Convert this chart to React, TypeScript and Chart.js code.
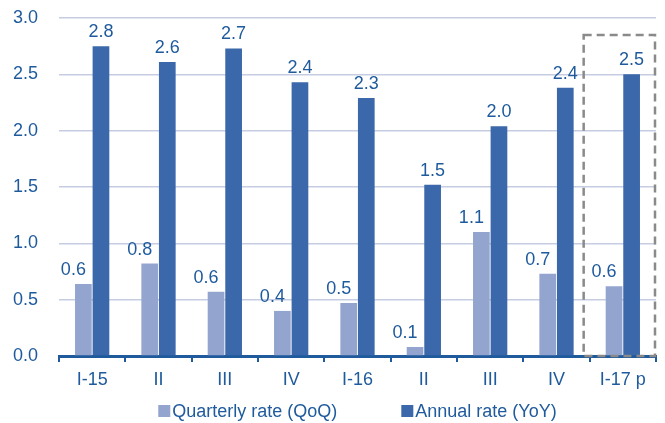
import React, { useEffect, useRef } from "react";
import { Chart, registerables } from "chart.js";

Chart.register(...registerables);

const categories = ["I-15", "II", "III", "IV", "I-16", "II", "III", "IV", "I-17 p"];
const quarterlyRate = [0.64, 0.82, 0.57, 0.4, 0.47, 0.08, 1.1, 0.73, 0.62];
const annualRate = [2.75, 2.61, 2.73, 2.43, 2.29, 1.52, 2.04, 2.38, 2.5];
const yTicks = [0, 0.5, 1.0, 1.5, 2.0, 2.5, 3.0];
const seriesNames = ["Quarterly rate (QoQ)", "Annual rate (YoY)"];

const TEXT = "#1E5A9C";
const LIGHT = "#93A5CE";
const DARK = "#3A68AA";
const FONT = "'Liberation Sans', Arial, sans-serif";
const FS = 18;

const overlayPlugin = {
  id: "overlay",
  afterDatasetsDraw(chart: any) {
    const ctx = chart.ctx;
    const area = chart.chartArea;
    const xs = chart.scales.x;
    const ys = chart.scales.y;
    ctx.save();
    // value labels
    ctx.font = `${FS}px ${FONT}`;
    ctx.fillStyle = TEXT;
    ctx.textAlign = "center";
    ctx.textBaseline = "alphabetic";
    chart.data.datasets.forEach((ds: any, di: number) => {
      const meta = chart.getDatasetMeta(di);
      meta.data.forEach((bar: any, i: number) => {
        const v = ds.data[i] as number;
        const dx = di === 0 ? -10 : 0;
        ctx.fillText(v.toFixed(1), bar.x + dx, bar.y - 9);
      });
    });
    // dashed highlight box around last category
    const last = categories.length - 1;
    const catW = (area.right - area.left) / categories.length;
    const left = xs.getPixelForValue(last) - catW / 2 - 6;
    const right = area.right - 1;
    const top = ys.getPixelForValue(2.85);
    const bottom = ys.getPixelForValue(0);
    ctx.strokeStyle = "#8A8A8A";
    ctx.lineWidth = 2.5;
    ctx.setLineDash([8, 5]);
    ctx.strokeRect(left, top, right - left, bottom - top);
    ctx.setLineDash([]);
    // legend
    ctx.font = `${FS}px ${FONT}`;
    ctx.textAlign = "left";
    ctx.textBaseline = "middle";
    const sq = 12;
    const gapText = 2;
    const gapItem = 64;
    const w0 = ctx.measureText(seriesNames[0]).width;
    const w1 = ctx.measureText(seriesNames[1]).width;
    const total = sq + gapText + w0 + gapItem + sq + gapText + w1;
    let lx = (area.left + area.right) / 2 - total / 2;
    const ly = 411;
    const colors = [LIGHT, DARK];
    [w0, w1].forEach((w, k) => {
      ctx.fillStyle = colors[k];
      ctx.fillRect(lx, ly - sq / 2, sq, sq);
      ctx.fillStyle = TEXT;
      ctx.fillText(seriesNames[k], lx + sq + gapText, ly + 1);
      lx += sq + gapText + w + gapItem;
    });
    ctx.restore();
  },
};

export default function App() {
  const ref = useRef<HTMLCanvasElement>(null);
  useEffect(() => {
    document.body.style.margin = "0";
    const chart = new Chart(ref.current as HTMLCanvasElement, {
      type: "bar",
      data: {
        labels: categories,
        datasets: [
          {
            label: seriesNames[0],
            data: quarterlyRate,
            backgroundColor: LIGHT,
            categoryPercentage: 0.53,
            barPercentage: 0.95,
          },
          {
            label: seriesNames[1],
            data: annualRate,
            backgroundColor: DARK,
            categoryPercentage: 0.53,
            barPercentage: 0.95,
          },
        ],
      },
      options: {
        animation: false,
        responsive: false,
        maintainAspectRatio: false,
        layout: { padding: { top: 18, right: 9, bottom: 32, left: 0 } },
        plugins: {
          legend: { display: false },
          tooltip: { enabled: false },
        },
        scales: {
          x: {
            offset: true,
            grid: {
              offset: true,
              drawOnChartArea: false,
              drawTicks: true,
              tickLength: 6,
              color: TEXT,
              lineWidth: 2,
            },
            border: { display: true, color: TEXT, width: 3 },
            ticks: {
              color: TEXT,
              font: { family: FONT, size: FS },
              padding: 7,
              maxRotation: 0,
              autoSkip: false,
            },
            afterFit(scale: any) {
              scale.height = 35;
              scale.paddingLeft = 0;
              scale.paddingRight = 0;
            },
          },
          y: {
            min: 0,
            max: 3,
            afterBuildTicks(scale: any) {
              scale.ticks = yTicks.map((v) => ({ value: v }));
            },
            grid: {
              drawTicks: false,
              color: "#C6CDE2",
              lineWidth: 1.5,
            },
            border: { display: false },
            ticks: {
              color: TEXT,
              font: { family: FONT, size: FS },
              padding: 21,
              callback: (v: any) => Number(v).toFixed(1),
            },
            afterFit(scale: any) {
              scale.width = 59;
              scale.paddingTop = 0;
              scale.paddingBottom = 0;
            },
          },
        },
      },
      plugins: [overlayPlugin],
    });
    return () => chart.destroy();
  }, []);
  return (
    <div style={{ width: 665, height: 423 }}>
      <canvas ref={ref} width={665} height={423} style={{ display: "block" }} />
    </div>
  );
}
